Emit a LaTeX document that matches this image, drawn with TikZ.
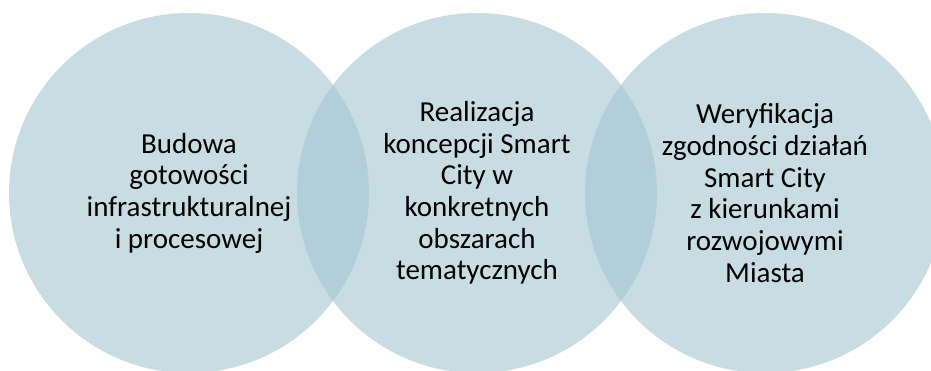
\documentclass[tikz,border=0pt]{standalone}
\usepackage{fontspec}
\setmainfont{Carlito}
\definecolor{circfill}{RGB}{163,197,210}
\begin{document}
\begin{tikzpicture}[x=1pt,y=1pt,
  circ/.style={circle,fill=circfill,fill opacity=0.6,minimum size=360pt,inner sep=0pt},
  lbl/.style={align=center,font=\fontsize{29}{31.7}\selectfont,text=black}]
\useasboundingbox (0,0) rectangle (931,370);
\begin{scope}
\clip (0,0) rectangle (931,370);
\node[circ] (c1) at (189,177) {};
\node[circ] (c2) at (477,177) {};
\node[circ] (c3) at (765,177) {};
\end{scope}
\node[lbl] (t1) at (c1.center) {Budowa\\gotowości\\infrastrukturalnej\\i procesowej};
\node[lbl] (t2) at (c2.center) {Realizacja\\koncepcji Smart\\City w\\konkretnych\\obszarach\\tematycznych};
\node[lbl] (t3) at (c3.center) {Weryfikacja\\zgodności działań\\Smart City\\z kierunkami\\rozwojowymi\\Miasta};
\end{tikzpicture}
\end{document}
